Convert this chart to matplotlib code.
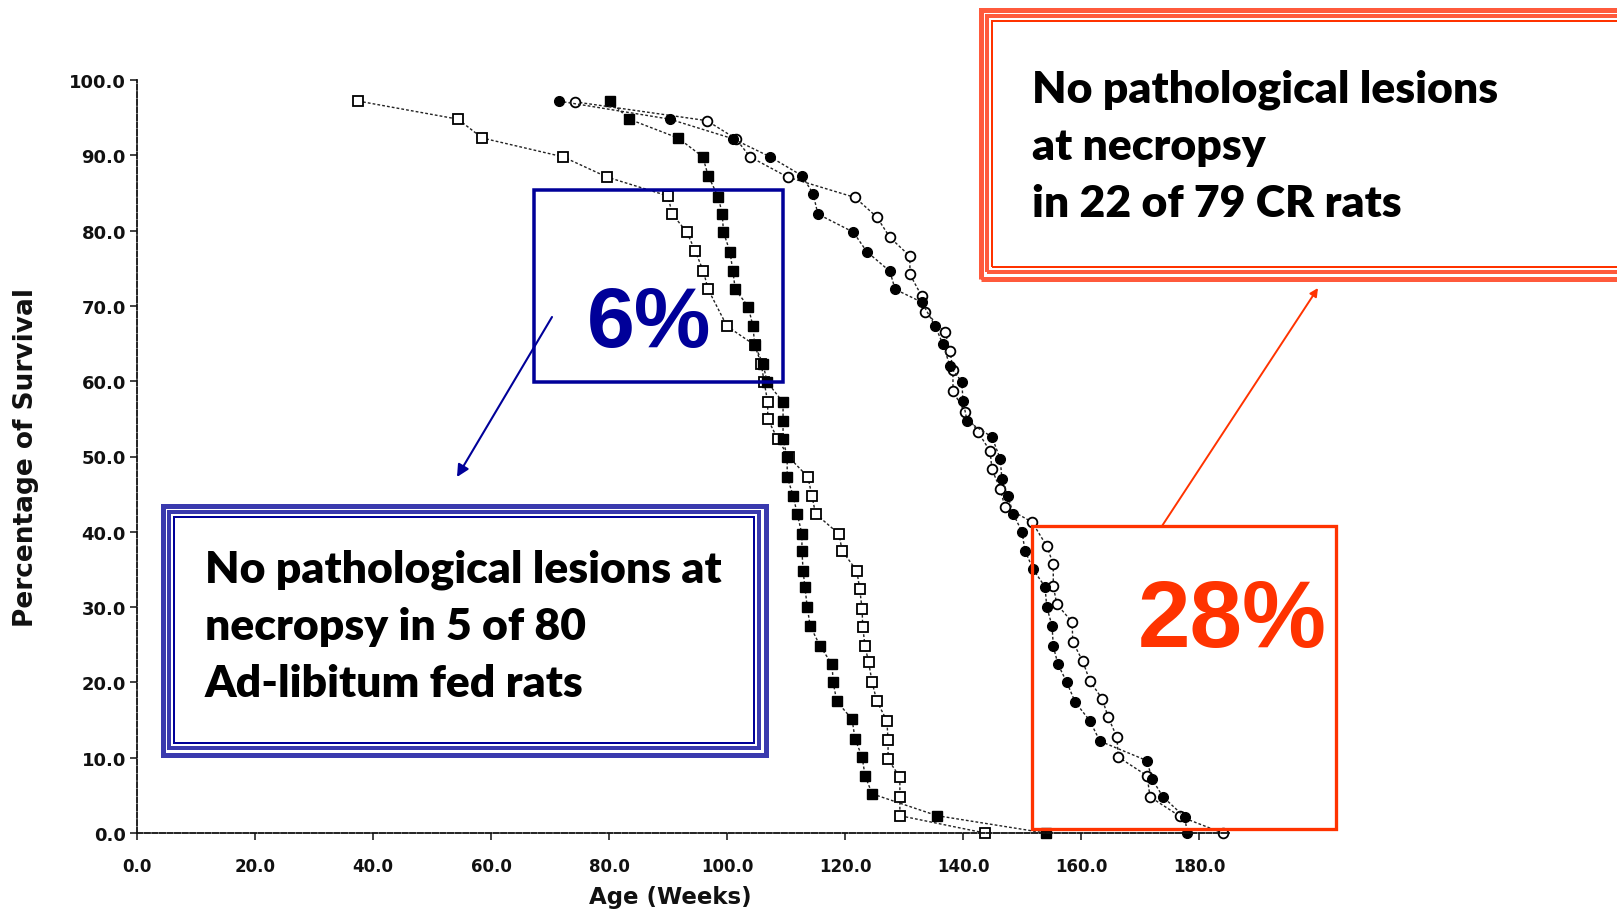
import matplotlib
matplotlib.use("Agg")
import matplotlib.pyplot as plt
from matplotlib.patches import Rectangle, FancyArrowPatch
from matplotlib.ticker import FixedLocator, FuncFormatter

# ---------------- data ----------------
# Ad-libitum group 1 (open squares)
al1_age = [37.5, 54.4, 58.5, 72.2, 79.7, 90.0, 90.7, 93.2, 94.6, 96.0, 96.8, 100.0,
           104.7, 105.8, 106.3, 106.9, 106.9, 108.6, 110.5, 113.7, 114.4, 115.0, 119.0,
           119.5, 122.0, 122.5, 122.9, 123.0, 123.4, 124.0, 124.6, 125.4, 127.1, 127.3,
           127.3, 129.3, 129.3, 129.3, 143.7]
al1_surv = [97.2, 94.8, 92.3, 89.8, 87.1, 84.6, 82.2, 79.8, 77.3, 74.6, 72.2, 67.3,
            64.8, 62.3, 59.9, 57.2, 55.0, 52.3, 49.9, 47.3, 44.8, 42.4, 39.7,
            37.5, 34.8, 32.4, 29.7, 27.4, 24.8, 22.7, 20.0, 17.5, 14.9, 12.3,
            9.8, 7.4, 4.8, 2.3, 0.0]

# Ad-libitum group 2 (filled squares)
al2_age = [80.2, 83.4, 91.7, 95.9, 96.8, 98.5, 99.2, 99.4, 100.5, 101.0, 101.4, 103.6,
           104.4, 104.7, 106.1, 106.8, 109.5, 109.5, 109.5, 110.2, 110.2, 111.2, 111.9,
           112.7, 112.7, 112.9, 113.2, 113.6, 114.1, 115.8, 117.8, 118.0, 118.6, 121.2,
           121.7, 122.9, 123.4, 124.6, 135.6, 154.0]
al2_surv = [97.2, 94.8, 92.3, 89.8, 87.3, 84.5, 82.2, 79.8, 77.2, 74.6, 72.2, 69.9,
            67.3, 64.8, 62.3, 59.9, 57.2, 54.7, 52.3, 49.9, 47.3, 44.8, 42.4,
            39.7, 37.5, 34.8, 32.7, 30.0, 27.5, 24.8, 22.4, 20.0, 17.5, 15.1,
            12.5, 10.1, 7.6, 5.2, 2.3, 0.0]

# Calorie-restricted group 1 (open circles)
cr1_age = [74.2, 96.6, 101.5, 103.9, 110.3, 121.7, 125.4, 127.6, 131.0, 131.0, 133.0,
           133.6, 137.0, 137.8, 138.3, 138.3, 140.3, 142.5, 144.6, 144.9, 146.3, 147.1,
           151.7, 154.2, 155.3, 155.3, 155.9, 158.5, 158.6, 160.3, 161.5, 163.6, 164.6,
           166.1, 166.3, 171.2, 171.7, 176.8, 184.0]
cr1_surv = [97.1, 94.6, 92.2, 89.8, 87.1, 84.4, 81.8, 79.1, 76.6, 74.2, 71.3,
            69.2, 66.5, 64.0, 61.5, 58.7, 55.9, 53.3, 50.7, 48.3, 45.7, 43.3,
            41.3, 38.1, 35.7, 32.8, 30.4, 28.0, 25.4, 22.8, 20.2, 17.8, 15.4,
            12.7, 10.1, 7.6, 4.8, 2.2, 0.0]

# Calorie-restricted group 2 (filled circles)
cr2_age = [71.5, 90.3, 101.0, 107.3, 112.7, 114.6, 115.4, 121.4, 123.7, 127.6, 128.5,
           133.0, 135.3, 136.6, 137.8, 139.8, 140.0, 140.7, 144.9, 146.3, 146.6, 147.6,
           148.5, 150.0, 150.5, 151.9, 153.9, 154.2, 155.1, 155.3, 156.1, 157.6, 159.0,
           161.5, 163.2, 171.2, 172.0, 173.9, 177.6, 178.0]
cr2_surv = [97.2, 94.8, 92.2, 89.8, 87.3, 84.9, 82.2, 79.8, 77.2, 74.6, 72.2,
            70.5, 67.3, 64.9, 62.0, 59.9, 57.4, 54.7, 52.6, 49.7, 47.0, 44.8,
            42.4, 40.0, 37.5, 35.0, 32.7, 30.0, 27.5, 24.8, 22.4, 20.0, 17.4,
            14.9, 12.2, 9.6, 7.2, 4.8, 2.1, 0.0]

x_ticks = [0, 20, 40, 60, 80, 100, 120, 140, 160, 180]
y_ticks = [0, 10, 20, 30, 40, 50, 60, 70, 80, 90, 100]

x_label = "Age (Weeks)"
y_label = "Percentage of Survival"
blue_pct = "6%"
red_pct = "28%"
blue_lines = ["No pathological lesions at", "necropsy in 5 of 80", "Ad-libitum fed rats"]
red_lines = ["No pathological lesions", "at necropsy", "in 22 of 79 CR rats"]

# ---------------- figure ----------------
W, H = 1617, 912
fig = plt.figure(figsize=(W / 100, H / 100), dpi=100)
fig.patch.set_facecolor("white")


def fx(px):
    return px / W


def fy(py):
    return 1 - py / H


x0_px, x_scale = 137, 5.9
ax = fig.add_axes([fx(x0_px), fy(834), 185 * x_scale / W, (834 - 81) / H])
ax.set_xlim(0, 185)
ax.set_ylim(0, 100)

line_kw = dict(color="#222222", lw=1.0, linestyle=(0, (2, 1.5)), clip_on=False)
ax.plot(al1_age, al1_surv, marker="s", ms=6.5, mfc="white", mec="black", mew=1.3, **line_kw)
ax.plot(al2_age, al2_surv, marker="s", ms=6.5, mfc="black", mec="black", mew=1.0, **line_kw)
ax.plot(cr1_age, cr1_surv, marker="o", ms=7, mfc="white", mec="black", mew=1.3, **line_kw)
ax.plot(cr2_age, cr2_surv, marker="o", ms=7, mfc="black", mec="black", mew=1.0, **line_kw)

for s in ["top", "right"]:
    ax.spines[s].set_visible(False)
for s in ["left", "bottom"]:
    ax.spines[s].set_linestyle((0, (3, 1.2)))
    ax.spines[s].set_linewidth(1.3)
    ax.spines[s].set_color("#111111")

ax.xaxis.set_major_locator(FixedLocator(x_ticks))
ax.yaxis.set_major_locator(FixedLocator(y_ticks))
fmt = FuncFormatter(lambda v, p: f"{v:.1f}")
ax.xaxis.set_major_formatter(fmt)
ax.yaxis.set_major_formatter(fmt)
ax.tick_params(direction="out", length=5, width=1.2, color="#222222",
               labelcolor="#111111")
ax.tick_params(axis="x", pad=12, labelsize=12)
ax.tick_params(axis="y", pad=3, labelsize=13)
for lab in ax.get_xticklabels() + ax.get_yticklabels():
    lab.set_fontweight("bold")
    lab.set_family("DejaVu Sans")

fig.text(fx(26), fy(458), y_label, rotation=90, ha="center", va="center",
         fontsize=19, fontweight="bold", color="#111111", family="DejaVu Sans")
fig.text(fx(670), fy(898), x_label, ha="center", va="center",
         fontsize=16.5, fontweight="bold", color="#111111", family="DejaVu Sans")

# ---------------- annotations ----------------
BLUE = "#000099"
BLUE_BAND = "#3A3AAE"
RED = "#FF3300"
RED_BAND = "#FF5A3C"


def rect(x0, y0, x1, y1, color, lwpx, z=5):
    r = Rectangle((fx(x0), fy(y1)), (x1 - x0) / W, (y1 - y0) / H,
                  transform=fig.transFigure, fill=False, edgecolor=color,
                  linewidth=lwpx * 0.72, zorder=z, joinstyle="miter")
    fig.add_artist(r)


def triple_box(x0, y0, x1, y1, band, line):
    for inset, lwpx, col in [(2.5, 5, band), (9, 4, band), (14, 2, line)]:
        rect(x0 + inset, y0 + inset, x1 - inset, y1 - inset, col, lwpx)


def text_block(x, baselines, lines):
    for yb, s in zip(baselines, lines):
        fig.text(fx(x), fy(yb), s, ha="left", va="baseline", color="black",
                 fontsize=32, fontweight="heavy", family="Lato")


# blue "6%" box
rect(534, 191, 783, 383, BLUE, 3.5)
fig.text(fx(649), fy(347), blue_pct, ha="center", va="baseline", color=BLUE,
         fontsize=62, fontweight="bold", family="Liberation Sans")
fig.add_artist(FancyArrowPatch((fx(552), fy(318)), (fx(457), fy(478)),
                               transform=fig.transFigure, arrowstyle="-|>",
                               mutation_scale=18, color=BLUE, lw=1.5,
                               shrinkA=0, shrinkB=0))

# blue triple-bordered box
triple_box(160, 504, 768, 758, BLUE_BAND, BLUE)
text_block(205, [582, 640, 697], blue_lines)

# red "28%" box
rect(1032, 527, 1336, 830, RED, 3.3)
fig.text(fx(1232), fy(647), red_pct, ha="center", va="baseline", color=RED,
         fontsize=68, fontweight="bold", family="Liberation Sans")
fig.add_artist(FancyArrowPatch((fx(1162), fy(527)), (fx(1318), fy(289)),
                               transform=fig.transFigure, arrowstyle="-|>",
                               mutation_scale=12, color=RED, lw=1.4,
                               shrinkA=0, shrinkB=0))

# red triple-bordered box (runs off the right edge)
triple_box(978, 8, 1640, 282, RED_BAND, RED)
text_block(1032, [102, 160, 217], red_lines)

fig.savefig("out.png", dpi=100, facecolor="white")
